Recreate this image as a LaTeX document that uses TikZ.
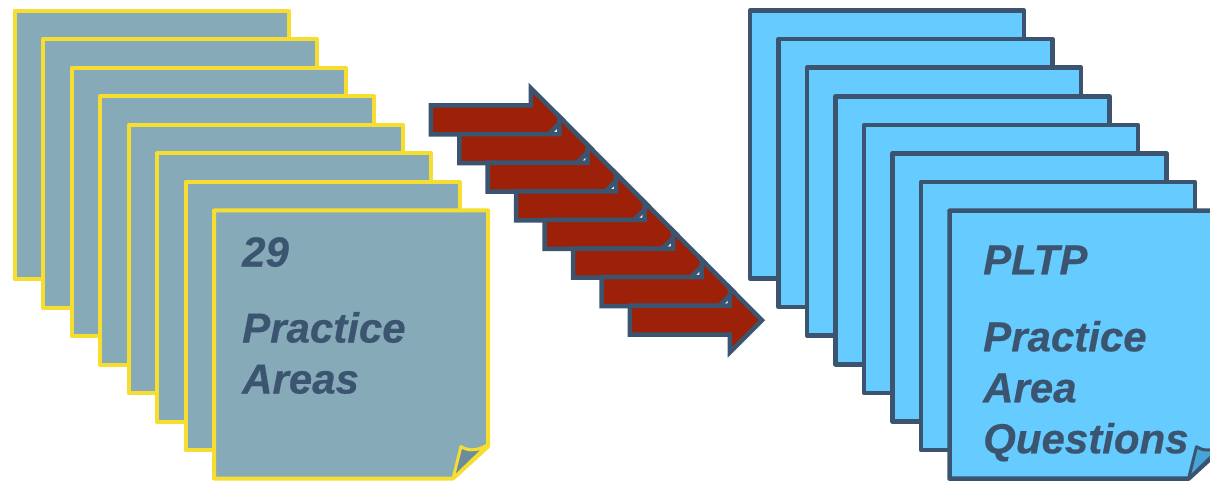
\documentclass[tikz,border=0pt]{standalone}
\usepackage{fontspec}
\setmainfont{Liberation Sans}[BoldItalicFeatures={FakeBold=0.5}]
\definecolor{slate}{RGB}{59,85,112}
\definecolor{paper}{RGB}{135,170,185}
\definecolor{paperfold}{RGB}{108,140,155}
\definecolor{marker}{RGB}{245,222,47}
\definecolor{sky}{RGB}{102,203,255}
\definecolor{skyfold}{RGB}{70,165,215}
\definecolor{brick}{RGB}{156,33,8}

\tikzset{
  areasheet/.style={draw=marker, fill=paper, line width=4pt, rectangle, minimum width=274pt, minimum height=268pt, inner sep=0pt, outer sep=0pt, anchor=north west, line join=round},
  questsheet/.style={areasheet, draw=slate, fill=sky, line width=4.5pt},
  stackarrow/.style={draw=slate, fill=brick, line width=4.5pt, line join=miter},
  sheettext/.style={text=slate, font=\fontsize{42}{51}\selectfont\bfseries\itshape, align=left, anchor=north west, inner sep=0pt},
}

\begin{document}
\begin{tikzpicture}[x=1pt, y=-1pt]
  \useasboundingbox (0,0) rectangle (1210,481);
  % practice areas
  \foreach \i in {0,...,6}
    \node[areasheet] (area\i) at ({14.5+28.5*\i},{11+28.5*\i}) {};
  \node[areasheet, draw=none, fill=none] (area7) at ({14.5+28.5*7},{11+28.5*7}) {};
  \draw[marker, fill=paper, line width=4pt, line join=round] (area7.north west) -- (area7.north east) -- ([yshift=32pt]area7.south east) -- ([xshift=-35pt]area7.south east) -- (area7.south west) -- cycle;
  \draw[marker, fill=paperfold, line width=3pt, line join=round] ([xshift=-35pt]area7.south east) -- ([xshift=-27pt,yshift=32pt]area7.south east) .. controls ([xshift=-18pt,yshift=26pt]area7.south east) and ([xshift=-8pt,yshift=29pt]area7.south east) .. ([yshift=34pt]area7.south east) -- cycle;
  \node[sheettext] (areatext) at ([xshift=28pt,yshift=-26.5pt]area7.north west) {29\\[25pt]Practice\\Areas};

  % staircase of arrows
  \foreach \i in {0,...,7}
    \draw[stackarrow] ({430.8+28.45*\i},{105.5+28.6*\i}) -- ++(100,0) -- ++(0,-17.5) -- ++(32,32) -- ++(-32,32) -- ++(0,-17.5) -- ++(-100,0) -- cycle;

  % practice area questions
  \foreach \i in {0,...,6}
    \node[questsheet] (quest\i) at ({750+28.5*\i},{10.5+28.6*\i}) {};
  \node[questsheet, draw=none, fill=none] (quest7) at ({750+28.5*7},{10.5+28.6*7}) {};
  \draw[slate, fill=sky, line width=4.5pt, line join=round] (quest7.north west) -- (quest7.north east) -- ([yshift=32pt]quest7.south east) -- ([xshift=-35pt]quest7.south east) -- (quest7.south west) -- cycle;
  \draw[slate, fill=skyfold, line width=3pt, line join=round] ([xshift=-35pt]quest7.south east) -- ([xshift=-27pt,yshift=32pt]quest7.south east) .. controls ([xshift=-18pt,yshift=26pt]quest7.south east) and ([xshift=-8pt,yshift=29pt]quest7.south east) .. ([yshift=34pt]quest7.south east) -- cycle;
  \node[sheettext] (questtext) at ([xshift=33.5pt,yshift=-34.5pt]quest7.north west) {PLTP\\[26pt]Practice\\Area\\Questions};
\end{tikzpicture}
\end{document}
